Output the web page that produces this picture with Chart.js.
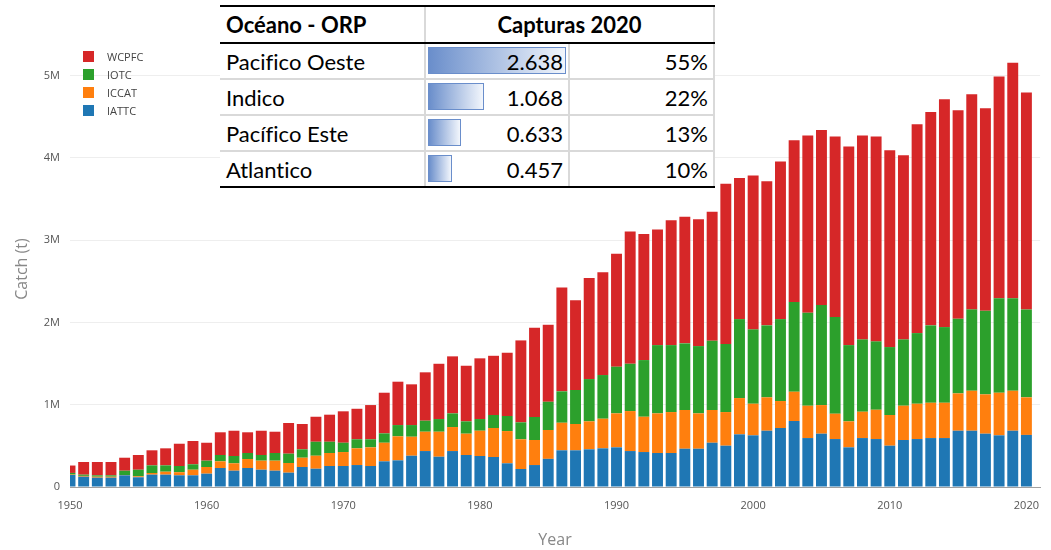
<!DOCTYPE html>
<html>
<head>
<meta charset="utf-8">
<script src="https://cdn.jsdelivr.net/npm/chart.js@4.4.1/dist/chart.umd.min.js"></script>
<style>
  body { margin: 0; background: #fff; }
  #wrap { position: relative; width: 1051px; height: 550px; overflow: hidden; }
  #chart { position: absolute; left: 0; top: 0; }
  #legend { position: absolute; left: 83px; top: 47px; font-family: "Open Sans", sans-serif; font-size: 11px; color: #444; }
  #legend .item { display: flex; align-items: center; height: 18px; }
  #legend .sw { width: 11px; height: 11px; margin-right: 13px; }
  #tabla { position: absolute; left: 220px; top: 5px; width: 495px; background: #fff; font-family: Lato, "Open Sans", sans-serif; color: #000; font-variant-ligatures: none; }
  #tabla .row { display: flex; box-sizing: border-box; }
  #tabla .head { height: 39px; border-top: 2px solid #000; border-bottom: 2px solid #000; font-weight: bold; font-size: 22px; }
  #tabla .body { height: 36px; border-bottom: 2px solid #d9d9d9; font-size: 22px; }
  #tabla .body.last { border-bottom: 2px solid #000; }
  #tabla .cell { box-sizing: border-box; display: flex; align-items: center; position: relative; }
  #tabla .c1 { width: 204px; padding-left: 6px; }
  #tabla .c2 { width: 144px; border-left: 2px solid #d9d9d9; justify-content: flex-end; padding-right: 5px; }
  #tabla .c3 { width: 147px; border-left: 2px solid #d9d9d9; border-right: 2px solid #d9d9d9; justify-content: flex-end; padding-right: 5px; }
  #tabla .c23 { width: 291px; border-left: 2px solid #d9d9d9; border-right: 2px solid #d9d9d9; justify-content: center; }
  #tabla .bar { position: absolute; left: 2px; top: 3px; bottom: 4px; box-sizing: border-box; border: 1.5px solid #6a8ecb; background: linear-gradient(to right, #6a8ecb, #f2f6fc); }
  #tabla .val { position: relative; }
</style>
</head>
<body>
<div id="wrap">
  <canvas id="chart" width="1051" height="550"></canvas>
  <div id="legend"></div>
  <div id="tabla"></div>
</div>
<script>
// Years on the x axis
const years = [
  1950, 1951, 1952, 1953, 1954, 1955, 1956, 1957, 1958, 1959,
  1960, 1961, 1962, 1963, 1964, 1965, 1966, 1967, 1968, 1969,
  1970, 1971, 1972, 1973, 1974, 1975, 1976, 1977, 1978, 1979,
  1980, 1981, 1982, 1983, 1984, 1985, 1986, 1987, 1988, 1989,
  1990, 1991, 1992, 1993, 1994, 1995, 1996, 1997, 1998, 1999,
  2000, 2001, 2002, 2003, 2004, 2005, 2006, 2007, 2008, 2009,
  2010, 2011, 2012, 2013, 2014, 2015, 2016, 2017, 2018, 2019,
  2020
];

// Catches per RFMO, thousand tonnes
const iattc = [
  146, 125, 113, 113, 142, 118, 150, 150, 142, 142,
  162, 231, 198, 231, 210, 198, 174, 243, 222, 255,
  255, 267, 255, 312, 324, 380, 437, 368, 437, 389,
  377, 365, 288, 219, 267, 342, 446, 446, 458, 470,
  482, 437, 425, 413, 413, 465, 465, 538, 502, 640,
  628, 684, 717, 802, 595, 648, 583, 482, 595, 583,
  502, 571, 583, 595, 595, 684, 684, 648, 628, 684,
  633
];
const iccat = [
  5, 10, 12, 12, 4, 12, 20, 36, 38, 68,
  81, 81, 90, 109, 110, 122, 118, 113, 158, 158,
  170, 203, 227, 226, 292, 231, 235, 304, 292, 259,
  307, 352, 392, 361, 304, 351, 335, 320, 340, 360,
  413, 486, 429, 482, 498, 471, 430, 398, 409, 441,
  384, 406, 328, 356, 393, 348, 308, 316, 320, 356,
  373, 417, 429, 429, 429, 454, 486, 478, 518, 486,
  457
];
const iotc = [
  20, 15, 17, 17, 52, 80, 93, 77, 75, 66,
  77, 77, 89, 73, 69, 93, 113, 102, 170, 137,
  113, 110, 98, 114, 137, 142, 134, 154, 166, 150,
  142, 158, 183, 206, 280, 343, 382, 413, 514, 531,
  567, 575, 689, 830, 814, 810, 818, 842, 827, 960,
  904, 875, 996, 1090, 1130, 1215, 1175, 927, 879, 831,
  826, 806, 859, 941, 920, 907, 989, 1016, 1147, 1123,
  1068
];
const wcpfc = [
  90, 154, 162, 162, 158, 179, 183, 207, 271, 283,
  218, 276, 307, 252, 295, 259, 373, 308, 304, 329,
  382, 371, 416, 494, 527, 495, 588, 672, 693, 676,
  738, 720, 769, 996, 1085, 936, 1263, 1090, 1228, 1248,
  1373, 1609, 1531, 1406, 1519, 1539, 1543, 1567, 1947, 1714,
  1871, 1753, 1916, 1968, 2155, 2130, 2195, 2415, 2479, 2491,
  2394, 2240, 2540, 2592, 2770, 2536, 2616, 2463, 2697, 2863,
  2638
];

// Axis ticks
const yTicks = [0, 1000000, 2000000, 3000000, 4000000, 5000000];
const xTicks = [1950, 1960, 1970, 1980, 1990, 2000, 2010, 2020];

// Table overlay (2020)
const oceanos = ['Pacifico Oeste', 'Indico', 'Pacífico Este', 'Atlantico'];
const capturas2020 = [2.638, 1.068, 0.633, 0.457];
const porcentajes = ['55%', '22%', '13%', '10%'];

const colors = {
  iattc: '#1f77b4',
  iccat: '#ff7f0e',
  iotc: '#2ca02c',
  wcpfc: '#d62728'
};

const series = [
  { label: 'IATTC', data: iattc, color: colors.iattc },
  { label: 'ICCAT', data: iccat, color: colors.iccat },
  { label: 'IOTC', data: iotc, color: colors.iotc },
  { label: 'WCPFC', data: wcpfc, color: colors.wcpfc }
];

// Legend (top series first, like plotly)
const legend = document.getElementById('legend');
series.slice().reverse().forEach(s => {
  const item = document.createElement('div');
  item.className = 'item';
  item.innerHTML = `<span class="sw" style="background:${s.color}"></span><span>${s.label}</span>`;
  legend.appendChild(item);
});

// Table
const tabla = document.getElementById('tabla');
const maxCaptura = Math.max(...capturas2020);
let html = '<div class="row head"><div class="cell c1">Océano - ORP</div><div class="cell c23">Capturas 2020</div></div>';
oceanos.forEach((o, i) => {
  const last = i === oceanos.length - 1 ? ' last' : '';
  const w = (capturas2020[i] / maxCaptura * 138).toFixed(1);
  html += `<div class="row body${last}">` +
    `<div class="cell c1">${o}</div>` +
    `<div class="cell c2"><div class="bar" style="width:${w}px"></div><span class="val">${capturas2020[i].toFixed(3)}</span></div>` +
    `<div class="cell c3">${porcentajes[i]}</div></div>`;
});
tabla.innerHTML = html;

const ctx = document.getElementById('chart');
new Chart(ctx, {
  type: 'bar',
  data: {
    labels: years,
    datasets: series.map(s => ({
      label: s.label,
      data: s.data.map(v => v * 1000),
      backgroundColor: s.color,
      borderWidth: 0,
      barPercentage: 0.8,
      categoryPercentage: 1.0
    }))
  },
  options: {
    responsive: false,
    animation: false,
    layout: { padding: { top: 51, right: 1, left: 0, bottom: 0 } },
    plugins: {
      legend: { display: false },
      tooltip: { enabled: false }
    },
    scales: {
      x: {
        type: 'linear',
        stacked: true,
        min: 1950,
        max: 2021,
        offset: false,
        afterFit: scale => { scale.height = 63; },
        afterBuildTicks: scale => { scale.ticks = xTicks.map(v => ({ value: v })); },
        grid: { display: false, drawTicks: false },
        border: { display: true, color: '#a0a0a0', width: 1 },
        ticks: {
          padding: 12,
          color: '#555',
          font: { family: 'Open Sans', size: 11 },
          callback: v => String(v),
          maxRotation: 0,
          autoSkip: false
        },
        title: {
          display: true,
          text: 'Year',
          color: '#888',
          font: { family: 'Open Sans', size: 16 },
          padding: { top: 0, bottom: 0 }
        }
      },
      y: {
        stacked: true,
        min: 0,
        max: 5300000,
        afterFit: scale => { scale.width = 70; },
        afterBuildTicks: scale => { scale.ticks = yTicks.map(v => ({ value: v })); },
        grid: { color: '#eeeeee', lineWidth: 1, drawTicks: false },
        border: { display: false },
        ticks: {
          padding: 10,
          color: '#555',
          font: { family: 'Open Sans', size: 11 },
          callback: v => v === 0 ? '0' : (v / 1000000) + 'M'
        },
        title: {
          display: true,
          text: 'Catch (t)',
          color: '#888',
          font: { family: 'Open Sans', size: 16 },
          padding: { top: 13, bottom: 0 }
        }
      }
    }
  }
});
</script>
</body>
</html>
